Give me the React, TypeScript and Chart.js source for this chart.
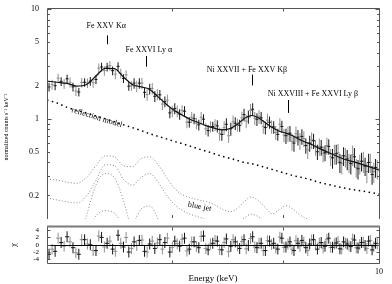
import React, { useEffect, useRef } from 'react';
import { Chart, registerables } from 'chart.js';

Chart.register(...registerables);

const SERIF = "'Liberation Serif', 'Times New Roman', serif";

// ---- axes ----
const xMin = 5.6;
const xMax = 10;
const xTickValues = [6.97, 8.45, 10];
const xTickLabels = ['', '', '10'];

const yMin = 0.122;
const yMax = 10.1;
const yTickValues = [0.2, 0.5, 1, 2, 5, 10];
const yTickLabels = ['0.2', '0.5', '1', '2', '5', '10'];
const yMinorTickValues = [0.2, 0.3, 0.4, 0.5, 0.6, 0.7, 0.8, 0.9, 2, 3, 4, 5, 6, 7, 8, 9];
const yMajorTickValues = [1, 10];

const chiMin = -5;
const chiMax = 4.875;
const chiTickValues = [-4, -2, 0, 2, 4];
const chiTickLabels = ['-4', '-2', '0', '2', '4'];
const chiSigma = 1.5;

// ---- data: instrument 1 (black) ----
const blackE = [
  5.62, 5.68, 5.74, 5.80, 5.86, 5.92, 5.98, 6.04, 6.10, 6.16,
  6.22, 6.28, 6.34, 6.40, 6.46, 6.52, 6.58, 6.64, 6.70, 6.76,
  6.82, 6.88, 6.94, 7.00, 7.06, 7.12, 7.18, 7.24, 7.30, 7.36,
  7.42, 7.48, 7.54, 7.60, 7.66, 7.72, 7.78, 7.84, 7.90, 7.96,
  8.02, 8.08, 8.14, 8.20, 8.26, 8.32, 8.38, 8.44, 8.50, 8.56,
  8.62, 8.68, 8.74, 8.80, 8.86, 8.92, 8.98, 9.04, 9.10, 9.16,
  9.22, 9.28, 9.34, 9.40, 9.46, 9.52, 9.58, 9.64, 9.70, 9.76,
  9.82, 9.88, 9.94,
];
const blackV = [
  1.95, 2.00, 2.19, 2.31, 1.95, 1.75, 2.15, 2.20, 2.28, 2.96,
  2.96, 2.74, 3.00, 2.33, 1.98, 2.11, 2.11, 1.74, 1.87, 1.60,
  1.65, 1.43, 1.13, 1.24, 1.10, 1.17, 0.93, 1.00, 0.88, 0.99,
  0.78, 0.85, 0.86, 0.72, 0.89, 0.81, 0.91, 0.87, 1.09, 1.04,
  1.22, 0.99, 1.02, 0.83, 0.93, 0.84, 0.72, 0.85, 0.70, 0.74,
  0.60, 0.68, 0.69, 0.57, 0.60, 0.63, 0.50, 0.55, 0.49, 0.56,
  0.44, 0.48, 0.40, 0.46, 0.43, 0.39, 0.45, 0.35, 0.41, 0.37,
  0.40, 0.31, 0.36,
];
const blackErr = [
  0.18, 0.18, 0.20, 0.21, 0.18, 0.16, 0.19, 0.20, 0.21, 0.27,
  0.27, 0.25, 0.27, 0.21, 0.18, 0.23, 0.23, 0.19, 0.21, 0.18,
  0.18, 0.16, 0.12, 0.14, 0.12, 0.13, 0.10, 0.11, 0.10, 0.11,
  0.09, 0.09, 0.11, 0.09, 0.12, 0.11, 0.12, 0.11, 0.14, 0.14,
  0.16, 0.13, 0.13, 0.11, 0.12, 0.11, 0.09, 0.11, 0.11, 0.12,
  0.10, 0.11, 0.11, 0.09, 0.10, 0.10, 0.08, 0.09, 0.08, 0.09,
  0.09, 0.10, 0.08, 0.09, 0.09, 0.08, 0.09, 0.07, 0.08, 0.07,
  0.08, 0.06, 0.07,
];
const blackChi = [
  -2.6, -1.8, 0.6, 2.2, -0.8, -2.6, 1.4, 0.0, -1.6, 2.0,
  0.4, -1.2, 2.6, -0.6, -2.0, 0.8, 1.2, -1.8, 0.2, -1.0,
  1.4, 0.6, -2.0, 1.0, -0.4, 1.8, -1.2, 0.8, -0.8, 2.4,
  -1.4, 0.4, 1.0, -1.4, 1.6, -0.4, 0.8, -1.0, 1.4, -0.2,
  2.2, -0.8, 0.4, -1.6, 1.0, 0.4, -1.2, 1.8, -0.6, 0.8,
  -1.6, 0.4, 1.2, -0.8, 0.2, 1.4, -1.2, 0.6, -0.4, 1.8,
  -0.7, 0.5, -1.1, 0.8, 0.2, -0.5, 1.3, -0.9, 0.6, -0.2,
  1.0, -1.4, 0.4,
];

// ---- data: instrument 2 (gray) ----
const grayE = [
  5.65, 5.71, 5.77, 5.83, 5.89, 5.95, 6.01, 6.07, 6.13, 6.19,
  6.25, 6.31, 6.37, 6.43, 6.49, 6.55, 6.61, 6.67, 6.73, 6.79,
  6.85, 6.91, 6.97, 7.03, 7.09, 7.15, 7.21, 7.27, 7.33, 7.39,
  7.45, 7.51, 7.57, 7.63, 7.69, 7.75, 7.81, 7.87, 7.93, 7.99,
  8.05, 8.11, 8.17, 8.23, 8.29, 8.35, 8.41, 8.47, 8.53, 8.59,
  8.65, 8.71, 8.77, 8.83, 8.89, 8.95, 9.01, 9.07, 9.13, 9.19,
  9.25, 9.31, 9.37, 9.43, 9.49, 9.55, 9.61, 9.67, 9.73, 9.79,
  9.85, 9.91, 9.97,
];
const grayV = [
  2.05, 2.34, 2.08, 2.15, 1.79, 2.14, 2.12, 2.13, 2.89, 2.74,
  3.05, 2.55, 2.59, 2.51, 2.00, 1.98, 2.11, 1.66, 1.89, 1.67,
  1.36, 1.48, 1.17, 1.17, 1.19, 0.93, 1.03, 0.91, 1.03, 0.81,
  0.85, 0.88, 0.73, 0.83, 0.70, 0.94, 0.88, 1.02, 0.95, 1.19,
  1.01, 1.05, 0.85, 0.97, 0.85, 0.75, 0.89, 0.71, 0.73, 0.62,
  0.73, 0.63, 0.66, 0.52, 0.64, 0.55, 0.56, 0.48, 0.57, 0.45,
  0.48, 0.49, 0.39, 0.45, 0.40, 0.47, 0.36, 0.39, 0.41, 0.33,
  0.40, 0.33, 0.35,
];
const grayErr = [
  0.21, 0.23, 0.21, 0.22, 0.18, 0.21, 0.21, 0.21, 0.29, 0.27,
  0.31, 0.26, 0.26, 0.25, 0.20, 0.24, 0.25, 0.20, 0.23, 0.20,
  0.16, 0.18, 0.14, 0.14, 0.14, 0.11, 0.12, 0.11, 0.12, 0.10,
  0.10, 0.11, 0.10, 0.12, 0.10, 0.13, 0.12, 0.14, 0.13, 0.17,
  0.14, 0.15, 0.12, 0.14, 0.12, 0.11, 0.12, 0.10, 0.12, 0.11,
  0.12, 0.11, 0.11, 0.09, 0.11, 0.09, 0.10, 0.08, 0.10, 0.08,
  0.10, 0.10, 0.08, 0.09, 0.08, 0.10, 0.07, 0.08, 0.09, 0.07,
  0.08, 0.07, 0.07,
];
const grayChi = [
  -1.2, 1.8, -0.4, 0.8, -2.2, 1.4, 0.2, -1.6, 2.4, -0.6,
  1.0, -1.8, 0.4, 2.0, -1.0, -0.2, 1.3, -2.0, 1.0, 0.5,
  -1.2, 1.8, -0.7, 0.3, 1.5, -1.7, 0.8, -0.5, 2.3, -1.0,
  0.2, 1.2, -1.3, 0.6, -1.9, 1.4, -0.3, 0.9, -1.1, 1.7,
  -0.6, 0.4, -1.6, 1.1, 0.1, -0.9, 2.1, -0.7, 0.2, -1.2,
  1.1, -0.4, 0.7, -1.6, 1.3, -0.1, 0.5, -0.9, 1.5, -0.7,
  0.2, 0.9, -1.2, 0.5, -0.3, 1.6, -0.8, 0.1, 0.7, -1.0,
  1.2, -0.5, 0.3,
];

// ---- model curves ----
const modelE = [
  5.6, 5.7, 5.8, 5.9, 6.0, 6.1, 6.2, 6.3, 6.4, 6.5,
  6.6, 6.7, 6.8, 6.9, 7.0, 7.1, 7.2, 7.3, 7.4, 7.5,
  7.6, 7.7, 7.8, 7.9, 8.0, 8.1, 8.2, 8.3, 8.4, 8.5,
  8.6, 8.7, 8.8, 8.9, 9.0, 9.2, 9.4, 9.6, 9.8, 10.0,
];
const modelTotal = [
  2.2, 2.15, 2.1, 1.98, 2.05, 2.45, 2.88, 2.86, 2.4, 2.05,
  1.95, 1.85, 1.58, 1.35, 1.18, 1.07, 0.98, 0.92, 0.86, 0.82,
  0.79, 0.81, 0.88, 1.0, 1.07, 1.02, 0.92, 0.83, 0.77, 0.74,
  0.70, 0.65, 0.61, 0.58, 0.54, 0.48, 0.43, 0.40, 0.37, 0.34,
];
const reflectionModel = [
  1.48, 1.39, 1.27, 1.19, 1.13, 1.06, 1.00, 0.94, 0.88, 0.83,
  0.78, 0.73, 0.69, 0.655, 0.62, 0.59, 0.56, 0.53, 0.505, 0.48,
  0.455, 0.437, 0.419, 0.40, 0.39, 0.375, 0.36, 0.345, 0.33, 0.317,
  0.304, 0.295, 0.286, 0.275, 0.264, 0.248, 0.234, 0.224, 0.215, 0.206,
];
const blueJetTotal = [
  0.280, 0.276, 0.264, 0.258, 0.292, 0.373, 0.459, 0.450, 0.373, 0.366,
  0.432, 0.450, 0.381, 0.292, 0.230, 0.202, 0.190, 0.182, 0.175, 0.165,
  0.151, 0.142, 0.151, 0.175, 0.194, 0.1785, 0.155, 0.136, 0.148, 0.161,
  0.151, 0.134, 0.124, 0.118, 0.114, 0.108, 0.103, 0.099, 0.095, 0.092,
];
const secondJet = [
  0.190, 0.182, 0.175, 0.171, 0.198, 0.275, 0.381, 0.373, 0.280, 0.248,
  0.292, 0.317, 0.264, 0.202, 0.1645, 0.145, 0.134, 0.127, 0.120, 0.114,
  0.110, 0.108, 0.112, 0.124, 0.135, 0.128, 0.115, 0.106, 0.108, 0.115,
  0.110, 0.100, 0.096, 0.094, 0.092, 0.089, 0.086, 0.083, 0.080, 0.078,
];
const feKaE = [5.8, 5.9, 6.0, 6.1, 6.2, 6.3, 6.4, 6.5, 6.6, 6.7];
const feKaLine = [0.03, 0.06, 0.13, 0.25, 0.317, 0.29, 0.18, 0.09, 0.045, 0.025];
const feKaWeak = [0.02, 0.05, 0.09, 0.13, 0.145, 0.138, 0.10, 0.06, 0.035, 0.02];
const feLyaE = [6.3, 6.4, 6.5, 6.6, 6.7, 6.8, 6.9, 7.0, 7.1];
const feLyaWeak = [0.025, 0.05, 0.10, 0.15, 0.16, 0.12, 0.07, 0.04, 0.02];

// ---- annotations ----
const lineLabels = ['Fe XXV K\u03b1', 'Fe XXVI Ly \u03b1', 'Ni XXVII + Fe XXV K\u03b2', 'Ni XXVIII + Fe XXVI Ly \u03b2'];
const lineLabelE = [6.21, 6.69, 7.94, 8.91];
const lineLabelV = [7.05, 4.22, 2.8, 1.69];
const lineMarkE = [6.22, 6.66, 8.01, 8.53];
const lineMarkTop = [5.74, 3.73, 2.525, 1.48];
const lineMarkBottom = [4.77, 2.98, 2.01, 1.13];

const curveLabels = ['reflection model', 'blue jet'];
const curveLabelE = [6.11, 7.31];
const curveLabelV = [1.024, 0.158];
const curveLabelAngle = [17, 11];

const yTitle = 'normalized counts s\u207b\u00b9 keV\u207b\u00b9';

const BLACK = '#151515';
const GRAY = '#8f8f8f';
const FRAME = '#555';

const pts = (xs: number[], ys: number[]) => xs.map((x, i) => ({ x, y: ys[i] }));
const bars = (xs: number[], ys: number[], es: number[]) =>
  xs.map((x, i) => ({ x, y: [ys[i] - es[i], ys[i] + es[i]] }));
const chiBars = (xs: number[], ys: number[]) =>
  xs.map((x, i) => ({ x, y: [ys[i] - chiSigma, ys[i] + chiSigma] }));

const topDecor = {
  id: 'topDecor',
  afterDatasetsDraw(chart: any) {
    const { ctx, chartArea: a, scales } = chart;
    const xs = scales.x;
    const ys = scales.y;
    ctx.save();
    ctx.strokeStyle = FRAME;
    ctx.lineWidth = 1;
    ctx.beginPath();
    ctx.moveTo(a.left + 0.5, a.bottom);
    ctx.lineTo(a.left + 0.5, a.top);
    ctx.lineTo(a.right + 0.5, a.top);
    ctx.lineTo(a.right + 0.5, a.bottom);
    ctx.stroke();
    // inward ticks
    ctx.beginPath();
    const yTick = (v: number, len: number) => {
      const y = Math.round(ys.getPixelForValue(v)) + 0.5;
      ctx.moveTo(a.left + 0.5, y);
      ctx.lineTo(a.left + 0.5 + len, y);
      ctx.moveTo(a.right + 0.5, y);
      ctx.lineTo(a.right + 0.5 - len, y);
    };
    yMinorTickValues.forEach((v) => yTick(v, 2.5));
    yMajorTickValues.forEach((v) => yTick(v, 4));
    xTickValues.forEach((v) => {
      const x = Math.round(xs.getPixelForValue(v)) + 0.5;
      ctx.moveTo(x, a.top);
      ctx.lineTo(x, a.top + 3);
      ctx.moveTo(x, a.bottom - 1);
      ctx.lineTo(x, a.bottom - 4);
    });
    ctx.stroke();

    // line labels and markers
    ctx.fillStyle = '#000';
    ctx.strokeStyle = '#000';
    ctx.font = `8px ${SERIF}`;
    ctx.textAlign = 'center';
    ctx.textBaseline = 'middle';
    lineLabels.forEach((t, i) => {
      ctx.fillText(t, xs.getPixelForValue(lineLabelE[i]), ys.getPixelForValue(lineLabelV[i]));
      const mx = Math.round(xs.getPixelForValue(lineMarkE[i])) + 0.5;
      ctx.beginPath();
      ctx.moveTo(mx, ys.getPixelForValue(lineMarkTop[i]));
      ctx.lineTo(mx, ys.getPixelForValue(lineMarkBottom[i]));
      ctx.stroke();
    });
    curveLabels.forEach((t, i) => {
      ctx.save();
      ctx.translate(xs.getPixelForValue(curveLabelE[i]), ys.getPixelForValue(curveLabelV[i]));
      ctx.rotate((curveLabelAngle[i] * Math.PI) / 180);
      ctx.fillText(t, 0, 0);
      ctx.restore();
    });
    // y title
    ctx.save();
    ctx.translate(6.5, 127);
    ctx.rotate(-Math.PI / 2);
    ctx.font = `6px ${SERIF}`;
    ctx.fillText(yTitle, 0, 0);
    ctx.restore();
    ctx.restore();
  },
};

const botDecor = {
  id: 'botDecor',
  afterDatasetsDraw(chart: any) {
    const { ctx, chartArea: a, scales } = chart;
    const xs = scales.x;
    const ys = scales.y;
    ctx.save();
    ctx.strokeStyle = '#000';
    ctx.lineWidth = 1;
    const zy = Math.round(ys.getPixelForValue(0)) + 0.5;
    ctx.beginPath();
    ctx.moveTo(a.left, zy);
    ctx.lineTo(a.right, zy);
    ctx.stroke();

    ctx.strokeStyle = FRAME;
    ctx.beginPath();
    ctx.moveTo(a.left + 0.5, a.top);
    ctx.lineTo(a.left + 0.5, a.bottom + 0.5);
    ctx.lineTo(a.right + 0.5, a.bottom + 0.5);
    ctx.lineTo(a.right + 0.5, a.top);
    chiTickValues.forEach((v) => {
      const y = Math.round(ys.getPixelForValue(v)) + 0.5;
      ctx.moveTo(a.left + 0.5, y);
      ctx.lineTo(a.left + 3.5, y);
      ctx.moveTo(a.right + 0.5, y);
      ctx.lineTo(a.right - 2.5, y);
    });
    xTickValues.forEach((v) => {
      const x = Math.round(xs.getPixelForValue(v)) + 0.5;
      ctx.moveTo(x, a.top + 0.5);
      ctx.lineTo(x, a.top + 3.5);
      ctx.moveTo(x, a.bottom + 0.5);
      ctx.lineTo(x, a.bottom - 2.5);
    });
    ctx.stroke();

    ctx.strokeStyle = '#7a7a7a';
    ctx.lineWidth = 2;
    ctx.beginPath();
    ctx.moveTo(a.left, a.top - 0.5);
    ctx.lineTo(a.right + 1, a.top - 0.5);
    ctx.stroke();
    ctx.restore();
  },
};

const lineDs = (data: any, color: string, width: number, dash: number[], order: number) => ({
  type: 'line',
  data,
  borderColor: color,
  borderWidth: width,
  borderDash: dash,
  pointRadius: 0,
  fill: false,
  cubicInterpolationMode: 'monotone',
  order,
});

const barDs = (data: any, color: string, order: number) => ({
  type: 'bar',
  data,
  backgroundColor: color,
  borderWidth: 0,
  barThickness: 1,
  grouped: false,
  inflateAmount: 0,
  order,
});

const centerDs = (data: any, color: string, order: number, r: number) => ({
  type: 'scatter',
  data,
  pointStyle: 'line',
  pointRadius: r,
  borderColor: color,
  borderWidth: 1,
  order,
});

export default function App() {
  const topRef = useRef<HTMLCanvasElement>(null);
  const botRef = useRef<HTMLCanvasElement>(null);

  useEffect(() => {
    const prevMargin = document.body.style.margin;
    document.body.style.margin = '0';
    Chart.defaults.font.family = SERIF;
    Chart.defaults.color = '#000';

    const top = new Chart(topRef.current as HTMLCanvasElement, {
      type: 'line',
      data: {
        datasets: [
          lineDs(pts(modelE, modelTotal), '#111', 1.2, [], 0),
          centerDs(pts(blackE, blackV), BLACK, 1, 1.5),
          barDs(bars(blackE, blackV, blackErr), BLACK, 2),
          centerDs(pts(grayE, grayV), GRAY, 3, 1.5),
          barDs(bars(grayE, grayV, grayErr), GRAY, 4),
          lineDs(pts(modelE, reflectionModel), '#000', 1.5, [1.5, 3.5], 5),
          lineDs(pts(modelE, blueJetTotal), '#888', 1, [1, 2], 6),
          lineDs(pts(modelE, secondJet), '#888', 1, [1, 2], 6),
          lineDs(pts(feKaE, feKaLine), '#888', 1, [1, 2], 6),
          lineDs(pts(feKaE, feKaWeak), '#888', 1, [1, 2], 6),
          lineDs(pts(feLyaE, feLyaWeak), '#888', 1, [1, 2], 6),
        ] as any,
      },
      options: {
        responsive: false,
        animation: false,
        events: [],
        layout: { padding: { left: 0, top: 8.5, right: 13, bottom: 0.5 } },
        plugins: { legend: { display: false }, tooltip: { enabled: false } },
        scales: {
          x: { type: 'logarithmic', min: xMin, max: xMax, display: false, offset: false },
          y: {
            type: 'logarithmic',
            min: yMin,
            max: yMax,
            position: 'left',
            grid: { display: false, drawTicks: false },
            border: { display: false },
            ticks: {
              padding: 8,
              autoSkip: false,
              color: '#000',
              font: { family: SERIF, size: 8 },
              callback: (_v: any, i: number) => yTickLabels[i] ?? '',
            },
            afterBuildTicks: (s: any) => {
              s.ticks = yTickValues.map((v) => ({ value: v }));
            },
            afterFit: (s: any) => {
              s.width = 47;
              s.paddingTop = 0;
              s.paddingBottom = 0;
            },
          },
        },
      } as any,
      plugins: [topDecor],
    });

    const bot = new Chart(botRef.current as HTMLCanvasElement, {
      type: 'line',
      data: {
        datasets: [
          centerDs(pts(blackE, blackChi), BLACK, 1, 2),
          barDs(chiBars(blackE, blackChi), BLACK, 2),
          centerDs(pts(grayE, grayChi), GRAY, 3, 2),
          barDs(chiBars(grayE, grayChi), GRAY, 4),
        ] as any,
      },
      options: {
        responsive: false,
        animation: false,
        events: [],
        layout: { padding: { left: 0, top: 1.5, right: 13, bottom: 0 } },
        plugins: { legend: { display: false }, tooltip: { enabled: false } },
        scales: {
          x: {
            type: 'logarithmic',
            min: xMin,
            max: xMax,
            position: 'bottom',
            offset: false,
            grid: { display: false, drawTicks: false },
            border: { display: false },
            ticks: {
              padding: 4.5,
              autoSkip: false,
              maxRotation: 0,
              color: '#000',
              font: { family: SERIF, size: 8 },
              callback: (_v: any, i: number) => xTickLabels[i] ?? '',
            },
            afterBuildTicks: (s: any) => {
              s.ticks = xTickValues.map((v) => ({ value: v }));
            },
            afterFit: (s: any) => {
              s.height = 21;
              s.paddingLeft = 0;
              s.paddingRight = 0;
            },
            title: {
              display: true,
              text: 'Energy (keV)',
              color: '#000',
              font: { family: SERIF, size: 9 },
              padding: 0,
            },
          },
          y: {
            type: 'linear',
            min: chiMin,
            max: chiMax,
            position: 'left',
            grid: { display: false, drawTicks: false },
            border: { display: false },
            ticks: {
              padding: 8,
              autoSkip: false,
              color: '#000',
              font: { family: SERIF, size: 7 },
              callback: (_v: any, i: number) => chiTickLabels[i] ?? '',
            },
            afterBuildTicks: (s: any) => {
              s.ticks = chiTickValues.map((v) => ({ value: v }));
            },
            afterFit: (s: any) => {
              s.width = 47;
              s.paddingTop = 0;
              s.paddingBottom = 0;
            },
            title: {
              display: true,
              text: '\u03c7',
              color: '#000',
              font: { family: SERIF, size: 8 },
              padding: { top: 9, bottom: 0 },
            },
          },
        },
      } as any,
      plugins: [botDecor],
    });

    return () => {
      top.destroy();
      bot.destroy();
      document.body.style.margin = prevMargin;
    };
  }, []);

  return (
    <div style={{ position: 'relative', width: 392, height: 284 }}>
      <canvas
        ref={topRef}
        width={392}
        height={224}
        style={{ position: 'absolute', left: 0, top: 0, width: 392, height: 224 }}
      />
      <canvas
        ref={botRef}
        width={392}
        height={62}
        style={{ position: 'absolute', left: 0, top: 222, width: 392, height: 62 }}
      />
    </div>
  );
}
